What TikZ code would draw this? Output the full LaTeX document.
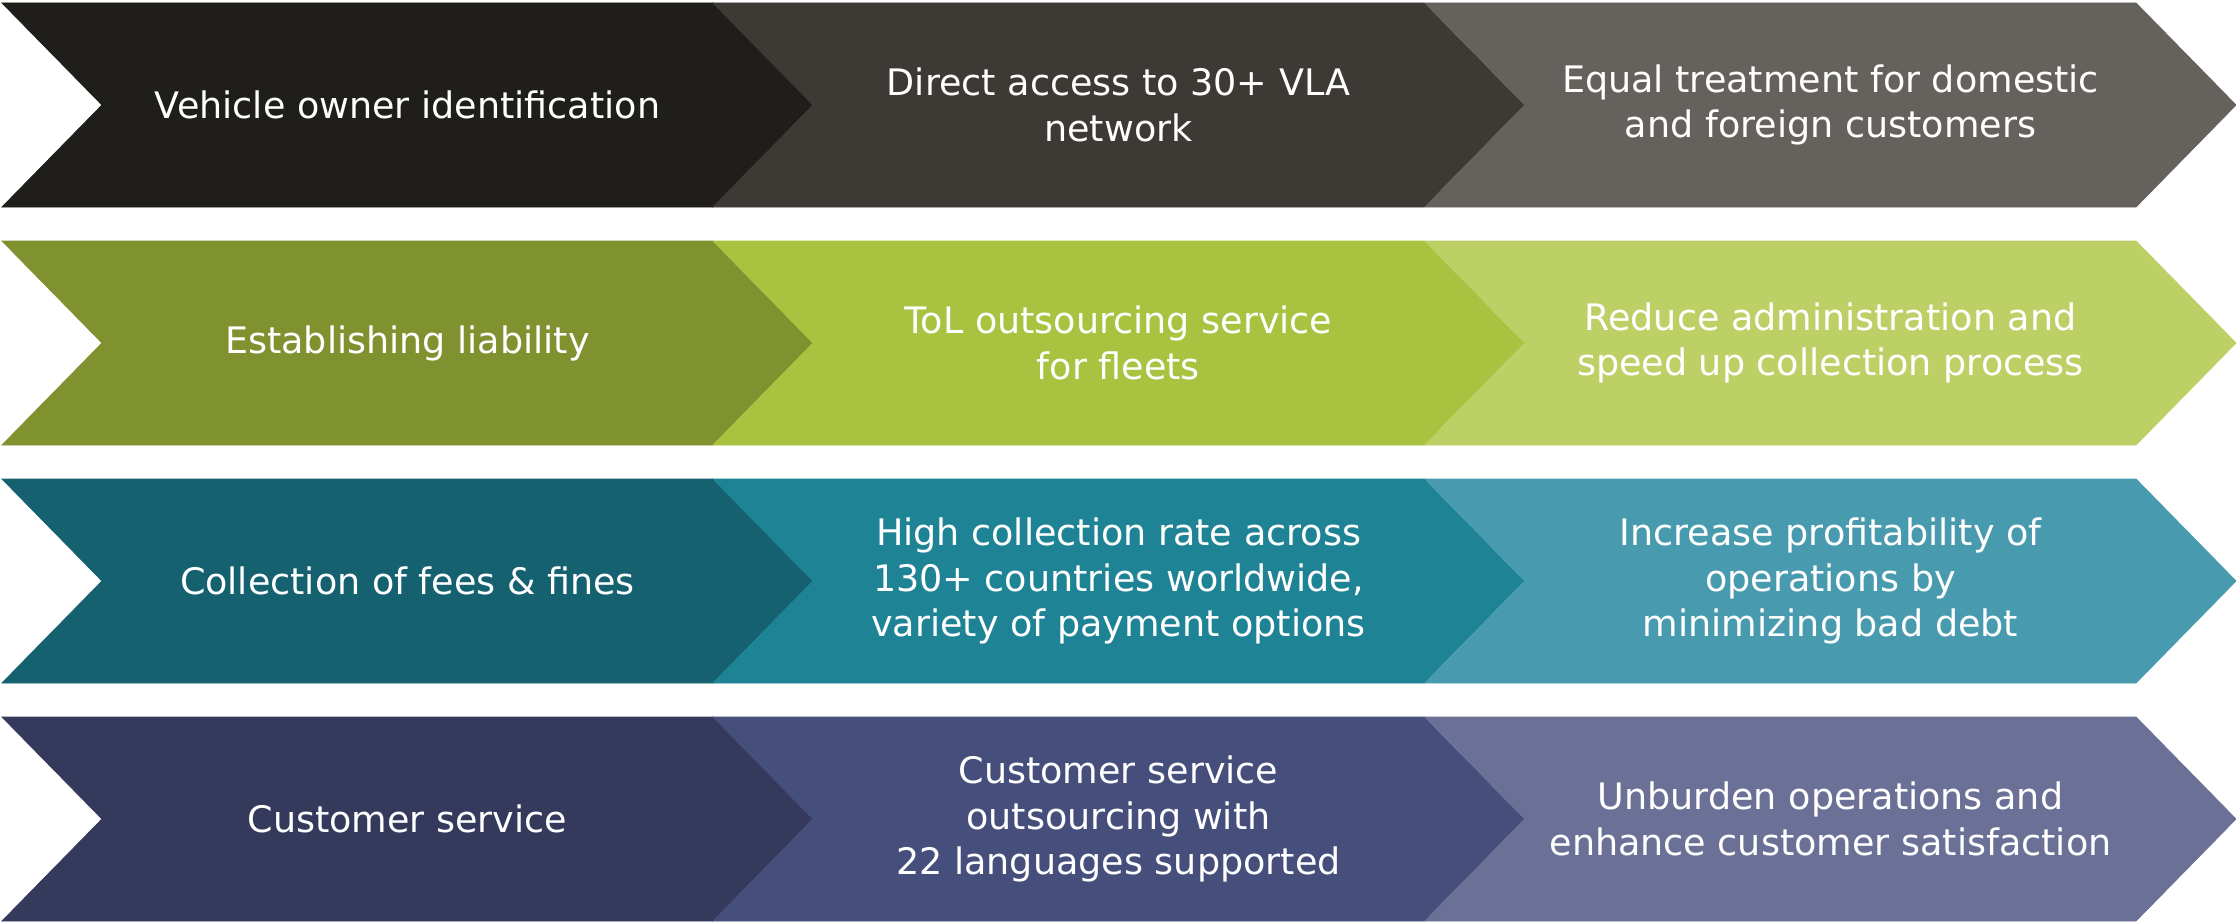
\documentclass[tikz,border=0pt]{standalone}
\usepackage{fontspec}
\setmainfont{DejaVu Sans}
\definecolor{ca1}{HTML}{1F1E1A}
\definecolor{ca2}{HTML}{3D3A35}
\definecolor{ca3}{HTML}{65615D}
\definecolor{cb1}{HTML}{80922F}
\definecolor{cb2}{HTML}{A9C23F}
\definecolor{cb3}{HTML}{BDD066}
\definecolor{cc1}{HTML}{166170}
\definecolor{cc2}{HTML}{1F8396}
\definecolor{cc3}{HTML}{489BAE}
\definecolor{cd1}{HTML}{353A5D}
\definecolor{cd2}{HTML}{464E7C}
\definecolor{cd3}{HTML}{6B7096}
\newcommand\mychev[5]{%
  \filldraw[fill=#3,draw=#3,line width=0.8pt,line join=miter] (#1,#2) -- ++(711,0) -- ++(100,102) -- ++(-100,102) -- ++(-711,0) -- ++(100,-102) -- cycle;
  \node[lbl] (#4) at (#1+405.5,#2+102) {#5};}
\begin{document}
\begin{tikzpicture}[x=1pt,y=-1pt,
  lbl/.style={align=center,text=white,font=\fontsize{36.5}{45.5}\selectfont,inner sep=0pt}]
\useasboundingbox (0,0) rectangle (2236,923);
\mychev{2}{3}{ca1}{a1}{Vehicle owner identification}
\mychev{713}{3}{ca2}{a2}{Direct access to 30+ VLA\\network}
\mychev{1425}{3}{ca3}{a3}{Equal treatment for domestic\\and foreign customers}
\mychev{2}{241}{cb1}{b1}{Establishing liability}
\mychev{713}{241}{cb2}{b2}{ToL outsourcing service\\for fleets}
\mychev{1425}{241}{cb3}{b3}{Reduce administration and\\speed up collection process}
\mychev{2}{479}{cc1}{c1}{Collection of fees \& fines}
\mychev{713}{479}{cc2}{c2}{High collection rate across\\130+ countries worldwide,\\variety of payment options}
\mychev{1425}{479}{cc3}{c3}{Increase profitability of\\operations by\\minimizing bad debt}
\mychev{2}{717}{cd1}{d1}{Customer service}
\mychev{713}{717}{cd2}{d2}{Customer service\\outsourcing with\\22 languages supported}
\mychev{1425}{717}{cd3}{d3}{Unburden operations and\\enhance customer satisfaction}
\end{tikzpicture}
\end{document}
